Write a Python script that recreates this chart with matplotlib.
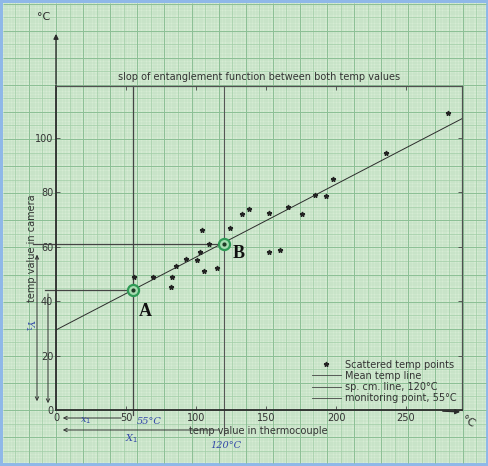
"""Graph-paper plot: camera temp vs thermocouple temp with mean line."""

import matplotlib
matplotlib.use("Agg")
import matplotlib.pyplot as plt
from matplotlib.collections import LineCollection
from matplotlib.lines import Line2D

# scattered readings (thermocouple °C, camera °C)
tc_temp = [56, 69, 83, 82, 86, 93, 101, 103, 106, 115, 104, 109, 124,
           133, 138, 152, 166, 176, 185, 193, 198, 152, 160, 236, 280]
cam_temp = [49, 49, 49, 45, 53, 55.5, 55, 58, 51, 52, 66, 61, 67,
            72, 74, 72.5, 74.5, 72, 79, 78.5, 85, 58, 58.7, 94.5, 109]

# mean temp line end points
mean_x = [0, 290]
mean_y = [29.4, 107]

# reading points
pt_A = (55, 44)
pt_B = (120, 61)

x_ticks = [0, 50, 100, 150, 200, 250]
y_ticks = [0, 20, 40, 60, 80, 100]

W, H = 489, 466
PAPER = "#d6ebd4"
INK = "#2b2b2b"
PEN = "#3147a8"


def main() -> None:
    fig = plt.figure(figsize=(W / 100, H / 100), dpi=100)
    fig.patch.set_facecolor("#8fb8e8")

    # background: graph paper in pixel coords
    bg = fig.add_axes([0, 0, 1, 1], zorder=0)
    bg.set_xlim(0, W)
    bg.set_ylim(H, 0)
    bg.axis("off")
    bg.add_patch(plt.Rectangle((3, 3), W - 6, H - 6, facecolor=PAPER, edgecolor="none"))

    step = 27.1 / 10
    ox, oy = 56, 410
    segs_minor, segs_mid, segs_major = [], [], []
    for i in range(-30, 170):
        x = ox + i * step
        if 3 <= x <= W - 3:
            s = [(x, 3), (x, H - 3)]
            (segs_major if i % 10 == 0 else segs_mid if i % 5 == 0 else segs_minor).append(s)
    for i in range(-30, 170):
        y = oy - i * step
        if 3 <= y <= H - 3:
            s = [(3, y), (W - 3, y)]
            (segs_major if i % 10 == 0 else segs_mid if i % 5 == 0 else segs_minor).append(s)
    bg.add_collection(LineCollection(segs_minor, colors="#b2d8b6", linewidths=0.3))
    bg.add_collection(LineCollection(segs_mid, colors="#a0cda6", linewidths=0.5))
    bg.add_collection(LineCollection(segs_major, colors="#8bbf95", linewidths=0.7))

    # main axes
    ax = fig.add_axes([56 / W, (H - 410) / H, 406 / W, 324 / H], zorder=2)
    ax.set_facecolor("none")
    ax.set_xlim(0, 290)
    ax.set_ylim(0, 119)
    for side in ["top", "right"]:
        ax.spines[side].set_color("#505050")
        ax.spines[side].set_linewidth(0.9)
    for side in ["left", "bottom"]:
        ax.spines[side].set_color(INK)
        ax.spines[side].set_linewidth(1.3)
    ax.set_xticks(x_ticks)
    ax.set_yticks(y_ticks)
    ax.tick_params(direction="in", length=3, width=0.6, labelsize=7,
                   labelcolor="#333333", color="#444444", top=True, right=True, pad=2)

    ax.plot(mean_x, mean_y, color=INK, lw=0.7, zorder=3)
    ax.plot(tc_temp, cam_temp, ls="none", marker="*", ms=3.5, color="#222222", zorder=4)

    # reading guides
    ax.plot([pt_A[0], pt_A[0]], [-2, 119], color="#444444", lw=0.9, clip_on=False)
    ax.plot([pt_B[0], pt_B[0]], [-9.2, 119], color="#555555", lw=0.8, clip_on=False)
    ax.plot([-8, pt_A[0]], [pt_A[1], pt_A[1]], color="#444444", lw=0.9, clip_on=False)
    ax.plot([-16.5, pt_B[0]], [pt_B[1], pt_B[1]], color="#444444", lw=0.9, clip_on=False)

    for (px, py), lab, off in [(pt_A, "A", (4, -15)), (pt_B, "B", (6, -7))]:
        ax.plot(px, py, marker="o", ms=8, mfc="#a6dcb0", mec="#2e9a55", mew=1.6, zorder=5)
        ax.plot(px, py, marker="o", ms=2, color="#1f3a25", zorder=6)
        ax.annotate(lab, (px, py), xytext=off, textcoords="offset points",
                    fontsize=13, fontweight="bold", family="Liberation Serif",
                    color="#111111", ha="left", va="center")

    ax.text(0.5, 1.028, "slop of entanglement function between both temp values",
            transform=ax.transAxes, ha="center", va="center", fontsize=7, color="#333333")
    ax.text(0.4975, -0.065, "temp value in thermocouple", transform=ax.transAxes,
            ha="center", va="center", fontsize=7, color="#333333")
    ax.text(-0.06, 0.5, "temp value in camera", transform=ax.transAxes, rotation=90,
            ha="center", va="center", fontsize=7, color="#333333")

    handles = [
        Line2D([0], [0], ls="none", marker="*", ms=3.5, color="#222222"),
        Line2D([0], [0], color="#444444", lw=0.6),
        Line2D([0], [0], color="#444444", lw=0.6),
        Line2D([0], [0], color="#444444", lw=0.6),
    ]
    labels = ["Scattered temp points", "Mean temp line",
              "sp. cm. line, 120°C", "monitoring point, 55°C"]
    leg = ax.legend(handles, labels, loc="lower right", bbox_to_anchor=(0.995, 0.012),
                    fontsize=7, frameon=True, fancybox=False, framealpha=0,
                    edgecolor="#333333", handlelength=2.9, labelspacing=0.12,
                    borderpad=0.3, handletextpad=0.5, borderaxespad=0)
    leg.get_frame().set_linewidth(0.8)
    for t in leg.get_texts():
        t.set_color("#333333")

    # hand drawn axis arrows and marks
    arr = dict(arrowstyle="-|>", color=INK, lw=1.0, mutation_scale=7)
    bg.annotate("", xy=(56, 31), xytext=(56, 87), arrowprops=arr)
    bg.annotate("", xy=(463, 412), xytext=(440, 411), arrowprops=arr)
    bg.text(44, 17, "°C", fontsize=8, color=INK, ha="center", va="center")
    bg.text(468, 422, "°C", fontsize=8, color=INK, ha="center", va="center", rotation=-30)

    thin = dict(arrowstyle="->", color="#333333", lw=0.7, mutation_scale=6)
    bg.annotate("", xy=(37, 404), xytext=(37, 253), arrowprops=thin)
    bg.annotate("", xy=(37, 252), xytext=(37, 262), arrowprops=thin)
    bg.annotate("", xy=(48, 406), xytext=(48, 291), arrowprops=thin)
    bg.annotate("", xy=(60, 418), xytext=(124, 418), arrowprops=thin)
    bg.annotate("", xy=(60, 430), xytext=(222, 430), arrowprops=thin)

    hand = dict(color=PEN, fontsize=7, style="italic", family="DejaVu Serif")
    bg.text(29, 325, "Y$_1$", rotation=-90, ha="center", va="center", **hand)
    bg.text(86, 421, "x$_1$", ha="center", va="center", **hand)
    bg.text(132, 439, "X$_1$", ha="center", va="center", **hand)
    bg.text(149, 421, "55°C", ha="center", va="center", **hand)
    bg.text(226, 446, "120°C", ha="center", va="center", **hand)

    fig.savefig("out.png", dpi=100, facecolor=fig.get_facecolor())


if __name__ == "__main__":
    main()
